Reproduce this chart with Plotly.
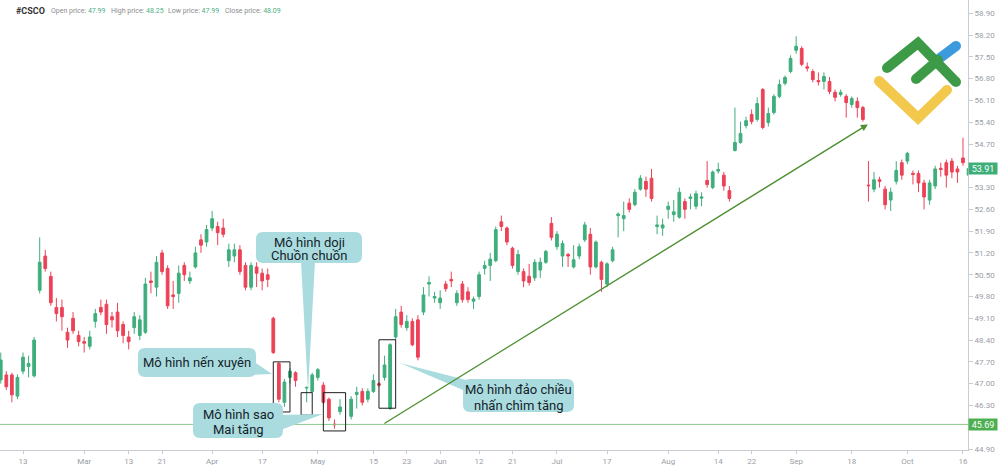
import plotly.graph_objects as go

# ---------------- data ----------------
idx = list(range(-4, 171))  # trading-day index, 0 = Feb 13
opens = [47.12, 47.28, 47.28, 46.60, 47.40, 47.55, 47.25, 50.00, 51.10, 50.45,
         49.45, 49.45, 48.65, 49.10, 48.55, 48.35, 48.20, 49.00, 49.45, 49.55,
         49.15, 49.30, 48.90, 48.50, 48.80, 48.55, 48.65, 50.30, 50.10, 51.20,
         50.70, 49.85, 49.90, 50.80, 50.30, 50.75, 51.62, 51.55, 52.00, 52.05,
         52.00, 50.95, 51.10, 51.30, 50.80, 50.10, 50.75, 50.55, 50.50, 49.10,
         47.65, 46.40, 47.20, 47.35, None, 46.86, 46.75, 47.20, 46.95, 46.50,
         45.70, 46.10, None, 45.95, 46.65, 46.75, 46.50, 46.75, 47.00, 47.20,
         46.20, 48.50, 49.30, 48.80, 49.00, 49.05, 49.30, 50.20, 49.75, 49.60,
         50.20, 50.35, 49.60, 50.20, 49.95, 49.65, 49.80, 50.70, 50.80, 50.95,
         52.20, 52.00, 51.35, 50.60, 50.60, 50.45, 50.40, 50.65, 50.90, 52.15,
         51.40, 51.10, 51.15, 50.75, 51.10, 51.62, 51.80, 50.75, 50.90, 50.20,
         50.95, 52.40, 52.30, 52.80, 52.75, 53.25, 53.50, 53.60, 52.05, 52.00,
         52.60, 52.43, 52.35, 52.85, 52.95, 52.70, 52.96, 53.53, 53.30, 53.83,
         53.70, 53.20, 54.49, 54.75, 55.29, 55.65, 55.49, 56.45, 55.39, 55.71,
         56.23, 56.65, 57.03, 57.71, 57.77, 57.18, 57.03, 56.74, 56.71, 56.71,
         56.36, 56.29, 56.23, 55.97, 56.07, 55.87, 53.38, 53.25, 53.55, 53.25,
         52.90, 53.50, 54.10, 54.15, 53.76, 53.75, 53.45, 52.90, 53.35, 53.92,
         54.10, 54.15, 53.90, 54.25, 53.70]
highs = [48.00, 47.40, 47.35, 47.30, 48.00, 47.90, 48.50, 51.70, 51.30, 50.60,
         49.75, 49.70, 48.80, 49.30, 48.70, 48.50, 48.70, 49.40, 49.70, 49.70,
         49.30, 49.60, 49.00, 48.70, 49.30, 49.20, 50.40, 50.60, 51.10, 51.30,
         50.80, 50.30, 50.80, 50.90, 50.60, 51.40, 51.80, 52.10, 52.55, 52.20,
         52.30, 51.50, 51.50, 51.45, 50.90, 50.90, 50.90, 50.70, 50.70, 49.15,
         47.70, 47.15, 47.50, 47.40, None, 46.90, 47.35, 47.50, 47.05, 46.55,
         45.85, 46.50, None, 46.60, 46.90, 46.85, 46.85, 47.30, 47.05, 47.90,
         48.30, 49.40, 49.50, 49.20, 49.10, 49.20, 50.10, 50.45, 49.95, 50.00,
         50.30, 50.60, 50.00, 50.30, 50.10, 49.80, 50.60, 50.95, 51.20, 52.05,
         52.40, 52.05, 51.40, 51.30, 50.70, 50.85, 51.00, 51.05, 51.30, 52.35,
         51.90, 51.60, 51.20, 51.45, 51.50, 52.20, 52.00, 51.60, 50.95, 50.90,
         51.40, 52.50, 52.85, 52.95, 53.25, 53.70, 53.65, 53.90, 52.40, 52.30,
         52.85, 52.90, 53.30, 52.95, 53.10, 53.20, 53.15, 54.15, 53.85, 54.10,
         53.80, 53.35, 55.87, 55.42, 55.58, 55.81, 56.20, 56.50, 55.87, 56.30,
         56.77, 56.90, 57.55, 58.16, 57.84, 57.32, 57.10, 57.00, 57.00, 56.85,
         56.45, 56.45, 56.30, 56.23, 56.20, 55.93, 54.15, 53.80, 53.65, 53.35,
         53.30, 54.15, 54.20, 54.45, 53.85, 53.85, 53.55, 53.55, 54.00, 54.10,
         54.20, 54.25, 54.00, 54.90, 54.00]
lows = [47.00, 46.80, 46.40, 46.50, 47.30, 47.20, 47.20, 49.90, 50.60, 49.50,
        49.00, 48.70, 48.15, 48.60, 48.20, 48.00, 48.10, 48.80, 49.20, 48.60,
        48.80, 48.50, 48.30, 48.10, 48.60, 48.40, 48.60, 49.90, 49.80, 50.50,
        49.40, 49.40, 49.60, 50.30, 50.20, 50.70, 51.20, 51.40, 51.90, 51.45,
        51.70, 50.75, 50.90, 50.50, 50.00, 50.00, 50.10, 50.00, 50.10, 47.95,
        46.40, 46.25, 47.00, 46.90, None, 46.40, 46.70, 47.10, 46.35, 45.80,
        45.55, 46.00, None, 45.85, 46.20, 46.30, 46.40, 46.70, 46.90, 47.10,
        46.15, 48.40, 48.80, 48.70, 48.20, 47.75, 49.20, 49.80, 49.60, 49.40,
        49.95, 50.10, 49.50, 49.60, 49.60, 49.40, 49.70, 50.50, 50.30, 50.90,
        51.90, 51.45, 50.70, 50.50, 50.10, 50.15, 50.30, 50.40, 50.85, 51.60,
        51.30, 50.75, 50.75, 50.70, 51.00, 51.55, 50.50, 50.70, 49.95, 50.10,
        50.90, 51.70, 51.90, 52.50, 52.70, 53.20, 53.00, 52.85, 51.80, 51.75,
        52.30, 52.20, 52.30, 52.30, 52.60, 52.60, 52.70, 53.30, 53.25, 53.75,
        53.20, 52.85, 54.46, 54.71, 55.20, 55.33, 55.42, 55.17, 55.26, 55.65,
        56.17, 56.58, 56.97, 57.60, 57.20, 57.03, 56.68, 56.58, 56.45, 56.30,
        56.07, 56.22, 55.55, 55.87, 55.55, 55.42, 52.85, 53.15, 53.30, 52.60,
        52.55, 53.40, 53.55, 54.05, 53.40, 53.15, 52.60, 52.75, 53.25, 53.65,
        53.30, 53.60, 53.45, 54.00, 53.60]
closes = [47.76, 46.90, 46.64, 47.20, 47.85, 47.65, 48.40, 50.90, 50.70, 49.60,
          49.25, 49.15, 48.40, 48.70, 48.35, 48.30, 48.50, 49.25, 49.30, 48.90,
          49.05, 48.70, 48.55, 48.35, 49.15, 49.05, 50.20, 50.25, 50.90, 50.60,
          49.50, 49.80, 50.55, 50.50, 50.40, 51.20, 51.45, 51.95, 52.30, 51.85,
          51.80, 51.30, 51.30, 50.60, 50.10, 50.80, 50.55, 50.30, 50.35, 48.00,
          46.50, 47.05, 47.40, 47.10, None, 46.88, 47.28, 47.45, 46.40, 45.90,
          45.68, 46.25, None, 46.50, 46.72, 46.40, 46.75, 47.10, 46.95, 47.60,
          48.25, 49.15, 48.90, 49.00, 48.25, 47.85, 49.85, 50.25, 49.80, 49.75,
          50.05, 50.30, 49.90, 49.70, 49.70, 49.72, 50.50, 50.80, 51.00, 51.95,
          52.05, 51.55, 50.80, 51.15, 50.30, 50.25, 50.90, 50.90, 51.25, 51.70,
          51.80, 51.50, 51.10, 50.98, 51.40, 52.10, 50.75, 51.55, 50.35, 50.85,
          51.30, 52.45, 52.40, 52.60, 53.15, 53.60, 53.25, 52.95, 52.10, 52.10,
          52.70, 52.52, 53.15, 52.60, 53.00, 53.10, 53.00, 53.40, 53.80, 53.88,
          53.35, 52.95, 54.75, 55.04, 55.45, 55.42, 56.00, 55.23, 55.68, 56.23,
          56.61, 56.84, 57.45, 57.84, 57.26, 57.14, 56.77, 56.70, 56.87, 56.39,
          56.20, 56.36, 56.03, 56.16, 55.87, 55.49, 53.36, 53.55, 53.50, 52.75,
          53.15, 53.85, 53.70, 54.40, 53.72, 53.45, 53.00, 53.45, 53.90, 53.88,
          53.70, 53.80, 53.80, 54.10, 53.91]

tick_idx = [0, 11, 19, 25, 34, 43, 53, 63, 69, 75, 82, 88, 96, 105, 116, 125, 131, 139, 149, 159, 169]
tick_txt = ['13', 'Mar', '13', '21', 'Apr', '17', 'May', '15', '23', 'Jun', '12', '21',
            'Jul', '17', 'Aug', '14', '22', 'Sep', '18', 'Oct', '16']
price_ticks = [44.90, 45.60, 46.30, 47.00, 47.70, 48.40, 49.10, 49.80, 50.50, 51.20,
               51.90, 52.60, 53.30, 54.00, 54.70, 55.40, 56.10, 56.80, 57.50, 58.20, 58.90]
price_ticks = [p for p in price_ticks if p not in (45.60, 54.00)] + [46.30][:0]
price_ticks = [44.90, 46.30, 47.00, 47.70, 48.40, 49.10, 49.80, 50.50, 51.20, 51.90,
               52.60, 53.30, 54.70, 55.40, 56.10, 56.80, 57.50, 58.20, 58.90]

support_level = 45.69
last_price = 53.91
trend_start = (64.7, 45.69)
trend_end = (151.9, 55.33)

# pattern boxes: (x0, x1, y_low, y_high)
pattern_boxes = [(45, 48, 46.09, 47.70),
                 (50, 52, 45.99, 46.71),
                 (54, 58, 45.48, 46.71),
                 (64, 67, 46.21, 48.41)]

header = [("Open price: ", "47.99"), ("High price: ", "48.25"),
          ("Low price: ", "47.99"), ("Close price: ", "48.09")]

# ---------------- layout helpers ----------------
W, H = 968.0, 450.0


def px(x):
    return x / W


def py(y):
    return 1 - y / H


def P(x, y):
    return f"{px(x):.5f},{py(y):.5f}"


def rrect(x0, y0, x1, y1, r):
    return (f"M{P(x0 + r, y0)} L{P(x1 - r, y0)} Q{P(x1, y0)} {P(x1, y0 + r)} "
            f"L{P(x1, y1 - r)} Q{P(x1, y1)} {P(x1 - r, y1)} L{P(x0 + r, y1)} "
            f"Q{P(x0, y1)} {P(x0, y1 - r)} L{P(x0, y0 + r)} Q{P(x0, y0)} {P(x0 + r, y0)} Z")


def tri(a, b, c):
    return f"M{P(*a)} L{P(*b)} L{P(*c)} Z"


INC = '#3fae7c'
DEC = '#ec4257'
CALLOUT = '#aadcdf'

fig = go.Figure()
fig.add_trace(go.Candlestick(
    x=idx, open=opens, high=highs, low=lows, close=closes,
    increasing=dict(line=dict(color=INC, width=1), fillcolor=INC),
    decreasing=dict(line=dict(color=DEC, width=1), fillcolor=DEC),
    whiskerwidth=0, hoverinfo='skip', showlegend=False))

shapes = []
# support line
shapes.append(dict(type='line', xref='paper', yref='y', x0=0, x1=1,
                   y0=support_level, y1=support_level,
                   line=dict(color='#8cc78c', width=1)))
# pattern boxes
for (x0, x1, y0, y1) in pattern_boxes:
    shapes.append(dict(type='rect', xref='x', yref='y', x0=x0, x1=x1, y0=y0, y1=y1,
                       line=dict(color='#1e1e1e', width=1), fillcolor='rgba(0,0,0,0)'))

# callouts (pixel geometry)
callouts = [
    dict(rect=(138, 348, 256, 377), tail=((250, 359), (250, 375), (272, 374)),
         lines=[("Mô hình nến xuyên", 197, 362.5)]),
    dict(rect=(256, 232, 362, 263), tail=((301, 261), (315, 261), (308, 392)),
         lines=[("Mô hình doji", 309, 242), ("Chuồn chuồn", 309, 255)]),
    dict(rect=(193, 403, 283, 438), tail=((278, 415), (278, 431), (323, 414)),
         lines=[("Mô hình sao", 238, 414), ("Mai tăng", 238, 429)]),
    dict(rect=(463, 379, 574, 412), tail=((470, 381), (470, 393), (400, 363)),
         lines=[("Mô hình đảo chiều", 518, 389), ("nhấn chìm tăng", 518, 405)]),
]
annotations = []
for c in callouts:
    shapes.append(dict(type='path', xref='paper', yref='paper', path=tri(*c['tail']),
                       fillcolor=CALLOUT, line=dict(width=0)))
    shapes.append(dict(type='path', xref='paper', yref='paper', path=rrect(*c['rect'], 7),
                       fillcolor=CALLOUT, line=dict(width=0)))
    for (t, x, y) in c['lines']:
        annotations.append(dict(text=t, xref='paper', yref='paper', x=px(x), y=py(y),
                                xanchor='center', yanchor='middle', showarrow=False,
                                font=dict(family='Roboto', size=13, color='#15232b')))

# logo (LiteFinance style)
logo = [
    ('#f2c94c', [(879, 81), (918, 118), (947, 90)]),
    ('#3b9bdc', [(936, 61), (956, 46)]),
    ('#3d9a47', [(887, 68), (918, 43), (956, 82)]),
    ('#3d9a47', [(916, 79), (938, 60)]),
]
for col, pts in logo:
    path = "M" + " L".join(P(*p) for p in pts)
    shapes.append(dict(type='path', xref='paper', yref='paper', path=path,
                       line=dict(color=col, width=10), fillcolor='rgba(0,0,0,0)'))
    r = 5
    for (x, y) in (pts[0], pts[-1]):
        shapes.append(dict(type='circle', xref='paper', yref='paper',
                           x0=px(x - r), x1=px(x + r), y0=py(y + r), y1=py(y - r),
                           fillcolor=col, line=dict(width=0)))

# trend arrow
annotations.append(dict(x=trend_end[0], y=trend_end[1], ax=trend_start[0], ay=trend_start[1],
                        xref='x', yref='y', axref='x', ayref='y', text='', showarrow=True,
                        arrowhead=2, arrowsize=1, arrowwidth=1.4, arrowcolor='#4f9034',
                        standoff=0))

# price labels on the right axis
for val, bg in ((last_price, '#3dae78'), (support_level, '#4caf50')):
    annotations.append(dict(text=f"{val:.2f}", xref='paper', yref='y', x=1.0005, y=val,
                            xanchor='left', yanchor='middle', showarrow=False,
                            bgcolor=bg, width=28, height=11, borderpad=0,
                            font=dict(family='Roboto', size=9, color='white')))

# header
annotations.append(dict(text="<b>#CSCO</b>", xref='paper', yref='paper', x=px(14), y=py(11),
                        xanchor='left', yanchor='middle', showarrow=False,
                        font=dict(family='Roboto', size=9, color='#333333')))
hx = [49, 109, 166, 223]
for (lab, v), x in zip(header, hx):
    annotations.append(dict(text=f"{lab}<span style='color:#4caf84'>{v}</span>",
                            xref='paper', yref='paper', x=px(x), y=py(11),
                            xanchor='left', yanchor='middle', showarrow=False,
                            font=dict(family='Roboto', size=7, color='#8c8c8c')))

fig.update_layout(
    width=1000, height=467,
    margin=dict(l=0, r=32, t=0, b=17),
    paper_bgcolor='white', plot_bgcolor='white',
    showlegend=False,
    shapes=shapes, annotations=annotations,
    xaxis=dict(range=[-4.135, 169.9], rangeslider=dict(visible=False),
               tickmode='array', tickvals=tick_idx, ticktext=tick_txt,
               showgrid=False, zeroline=False, showline=True, linecolor='#c9ccd2',
               ticks='outside', ticklen=3, tickcolor='#c9ccd2',
               tickfont=dict(family='Roboto', size=8, color='#9a9ea6')),
    yaxis=dict(range=[44.868, 59.327], side='right', tickmode='array',
               tickvals=price_ticks, ticktext=[f"{p:.2f}" for p in price_ticks],
               showgrid=False, zeroline=False, showline=True, linecolor='#c9ccd2',
               ticks='outside', ticklen=4, tickcolor='#c9ccd2',
               tickfont=dict(family='Roboto', size=8, color='#9a9ea6')),
)

fig.write_html("out.html")
